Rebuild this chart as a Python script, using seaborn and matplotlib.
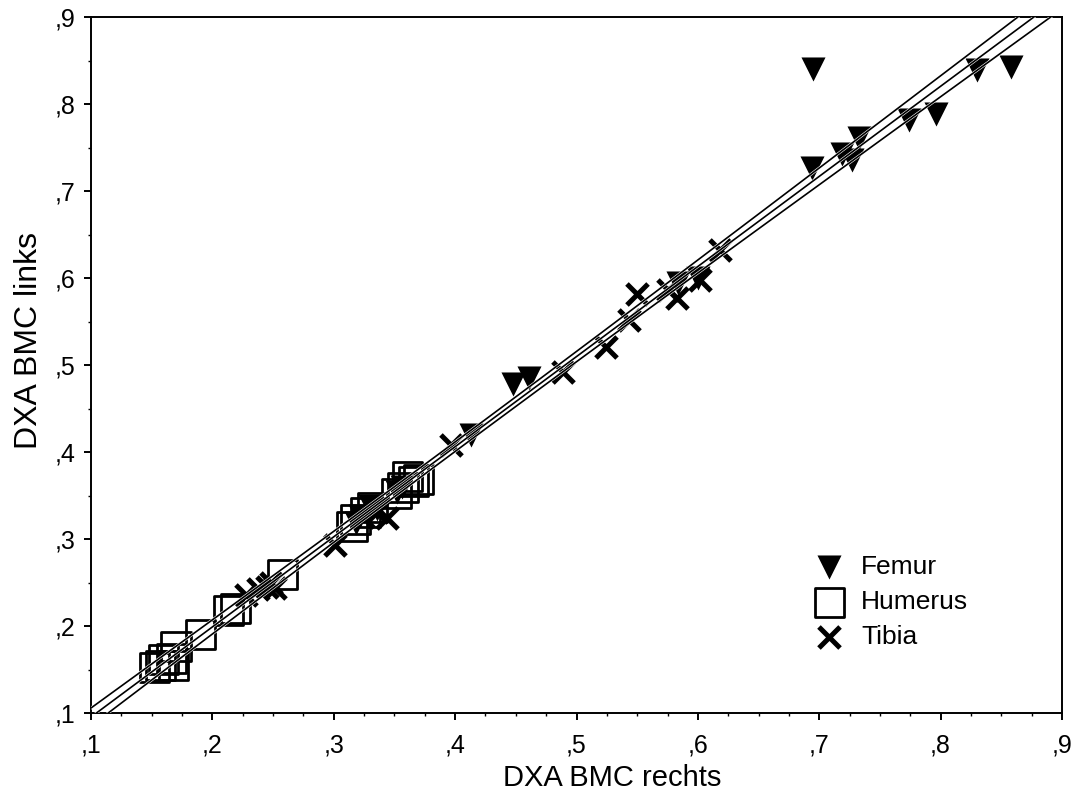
import numpy as np
import pandas as pd
import matplotlib
matplotlib.use("Agg")
import matplotlib.pyplot as plt
import seaborn as sns
from matplotlib.ticker import MultipleLocator, FuncFormatter

# ---- data ----
femur_x = [0.695, 0.694, 0.719, 0.727, 0.733, 0.774, 0.796, 0.830, 0.858, 0.584,
           0.600, 0.448, 0.461, 0.413, 0.352, 0.356, 0.330, 0.322, 0.318, 0.336]
femur_y = [0.840, 0.726, 0.742, 0.736, 0.761, 0.782, 0.789, 0.839, 0.843, 0.594,
           0.600, 0.478, 0.485, 0.420, 0.354, 0.360, 0.338, 0.326, 0.318, 0.334]

humerus_x = [0.152, 0.157, 0.160, 0.166, 0.168, 0.170, 0.190, 0.213, 0.219, 0.258,
             0.315, 0.318, 0.326, 0.332, 0.352, 0.357, 0.361, 0.366, 0.370]
humerus_y = [0.152, 0.155, 0.161, 0.163, 0.155, 0.176, 0.190, 0.218, 0.220, 0.259,
             0.314, 0.322, 0.330, 0.336, 0.352, 0.359, 0.372, 0.366, 0.368]

tibia_x = [0.228, 0.238, 0.245, 0.252, 0.248, 0.301, 0.324, 0.336, 0.344, 0.397,
           0.489, 0.524, 0.543, 0.550, 0.575, 0.583, 0.602, 0.618]
tibia_y = [0.236, 0.243, 0.245, 0.244, 0.250, 0.293, 0.325, 0.331, 0.324, 0.408,
           0.492, 0.521, 0.552, 0.582, 0.586, 0.577, 0.598, 0.632]

tick_values = [0.1, 0.2, 0.3, 0.4, 0.5, 0.6, 0.7, 0.8, 0.9]
x_label = "DXA BMC rechts"
y_label = "DXA BMC links"

# ---- figure ----
sns.set_theme(style="white")
plt.rcParams["font.family"] = ["Liberation Sans", "DejaVu Sans"]
plt.rcParams["text.color"] = "black"
plt.rcParams["axes.labelcolor"] = "black"
plt.rcParams["xtick.color"] = "black"
plt.rcParams["ytick.color"] = "black"

fig = plt.figure(figsize=(10.75, 7.98), dpi=100)
ax = fig.add_axes([91 / 1075, 1 - 713 / 798, (1062 - 91) / 1075, (713 - 17) / 798])

df_f = pd.DataFrame({"x": femur_x, "y": femur_y})
df_h = pd.DataFrame({"x": humerus_x, "y": humerus_y})
df_t = pd.DataFrame({"x": tibia_x, "y": tibia_y})

sns.scatterplot(data=df_f, x="x", y="y", marker="v", s=300, color="black",
                linewidth=0, ax=ax, label="Femur", zorder=2)
sns.scatterplot(data=df_h, x="x", y="y", marker="s", s=440, facecolor="none",
                edgecolor="black", linewidth=2.0, ax=ax, label="Humerus", zorder=2)
sns.scatterplot(data=df_t, x="x", y="y", marker="x", s=230, color="black",
                linewidth=3.6, ax=ax, label="Tibia", zorder=2)

# regression line with 95% confidence band for the mean
allx = np.array(femur_x + humerus_x + tibia_x)
ally = np.array(femur_y + humerus_y + tibia_y)
n = len(allx)
b1, b0 = np.polyfit(allx, ally, 1)
resid = ally - (b0 + b1 * allx)
s = np.sqrt(np.sum(resid ** 2) / (n - 2))
xbar = allx.mean()
sxx = np.sum((allx - xbar) ** 2)
xs = np.linspace(0.05, 0.95, 300)
fit = b0 + b1 * xs
se = s * np.sqrt(1 / n + (xs - xbar) ** 2 / sxx)
tval = 2.0
lines = [fit, fit + tval * se, fit - tval * se]
for yy in lines:
    ax.plot(xs, yy, color="white", lw=2.0, zorder=3)
for yy in lines:
    ax.plot(xs, yy, color="black", lw=1.2, zorder=4)

ax.set_xlim(0.1, 0.9)
ax.set_ylim(0.1, 0.9)

fmt = FuncFormatter(lambda v, p: ("%.1f" % v).lstrip("0").replace(".", ","))
ax.xaxis.set_minor_locator(MultipleLocator(0.025))
ax.yaxis.set_minor_locator(MultipleLocator(0.05))
ax.set_xticks(tick_values)
ax.set_yticks(tick_values)
ax.xaxis.set_major_formatter(fmt)
ax.yaxis.set_major_formatter(fmt)

ax.tick_params(axis="both", which="major", direction="out", length=5, width=1.4,
               colors="black", labelsize=18, bottom=True, left=True)
ax.tick_params(axis="both", which="minor", direction="out", length=2.5, width=1.0,
               colors="black", bottom=True, left=True)
ax.tick_params(axis="x", which="major", pad=10)
ax.tick_params(axis="y", which="major", pad=6)

for sp in ax.spines.values():
    sp.set_color("black")
    sp.set_linewidth(1.4)

ax.set_xlabel(x_label, fontsize=21, color="black")
ax.set_ylabel(y_label, fontsize=23, color="black")
ax.xaxis.set_label_coords(0.537, -0.073)
ax.yaxis.set_label_coords(-0.048, 0.535)

leg = ax.legend(loc="lower left", bbox_to_anchor=(0.725, 0.065), frameon=False,
                fontsize=19, handletextpad=0.6, labelspacing=0.42, borderpad=0.2,
                handlelength=1.2)
for t in leg.get_texts():
    t.set_color("black")

fig.savefig("out.png", dpi=100)
